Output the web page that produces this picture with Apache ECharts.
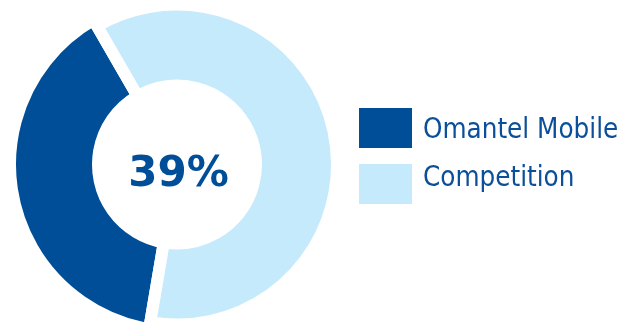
<!DOCTYPE html>
<html>
<head>
<meta charset="utf-8">
<script src="https://cdn.jsdelivr.net/npm/echarts@6/dist/echarts.min.js"></script>
<style>
  html, body { margin: 0; padding: 0; background: #ffffff; }
  #chart { width: 626px; height: 322px; }
</style>
</head>
<body>
<div id="chart"></div>
<script>
const categories = ['Omantel Mobile', 'Competition'];
const shareValues = [39, 61];
const centerLabel = '39%';
const colors = ['#004E98', '#C4EAFC'];

const chart = echarts.init(document.getElementById('chart'), null, { renderer: 'canvas' });

function seriesFor(idx, radius) {
  return {
    type: 'pie',
    center: [177, 164.5],
    radius: radius,
    startAngle: 120,
    clockwise: false,
    silent: true,
    animation: false,
    avoidLabelOverlap: false,
    label: { show: false },
    labelLine: { show: false },
    emphasis: { disabled: true },
    data: categories.map((c, i) => i === idx
      ? { name: c, value: shareValues[i], itemStyle: { color: colors[i], borderColor: '#ffffff', borderWidth: 12, borderJoin: 'miter' } }
      : { name: '_' + c, value: shareValues[i], itemStyle: { color: 'rgba(0,0,0,0)', borderWidth: 0 } })
  };
}

function legendText(pad) {
  const base = {
    color: '#0B4F9A',
    fontFamily: '"DejaVu Sans Condensed", "DejaVu Sans", sans-serif',
    fontSize: 27.5
  };
  return Object.assign({}, base, { rich: { a: Object.assign({ padding: pad }, base) } });
}

chart.setOption({
  backgroundColor: '#ffffff',
  animation: false,
  legend: [
    {
      data: [categories[0]],
      left: 359, top: 108,
      icon: 'rect', itemWidth: 53, itemHeight: 40,
      itemStyle: { borderWidth: 0 },
      selectedMode: false,
      padding: 0,
      formatter: '{a|{name}}',
      textStyle: legendText([6, 0, 0, 6])
    },
    {
      data: [categories[1]],
      left: 359, top: 164,
      icon: 'rect', itemWidth: 53, itemHeight: 40,
      itemStyle: { borderWidth: 0 },
      selectedMode: false,
      padding: 0,
      formatter: '{a|{name}}',
      textStyle: legendText([0, 0, 10, 6])
    }
  ],
  graphic: [{
    type: 'text',
    x: 178.5, y: 175,
    style: {
      text: centerLabel,
      fill: '#004E98',
      font: 'bold 42px "DejaVu Sans", sans-serif',
      textAlign: 'center',
      textVerticalAlign: 'middle'
    }
  }],
  series: [
    seriesFor(0, [79, 167]),
    seriesFor(1, [79, 160])
  ]
});
</script>
</body>
</html>
